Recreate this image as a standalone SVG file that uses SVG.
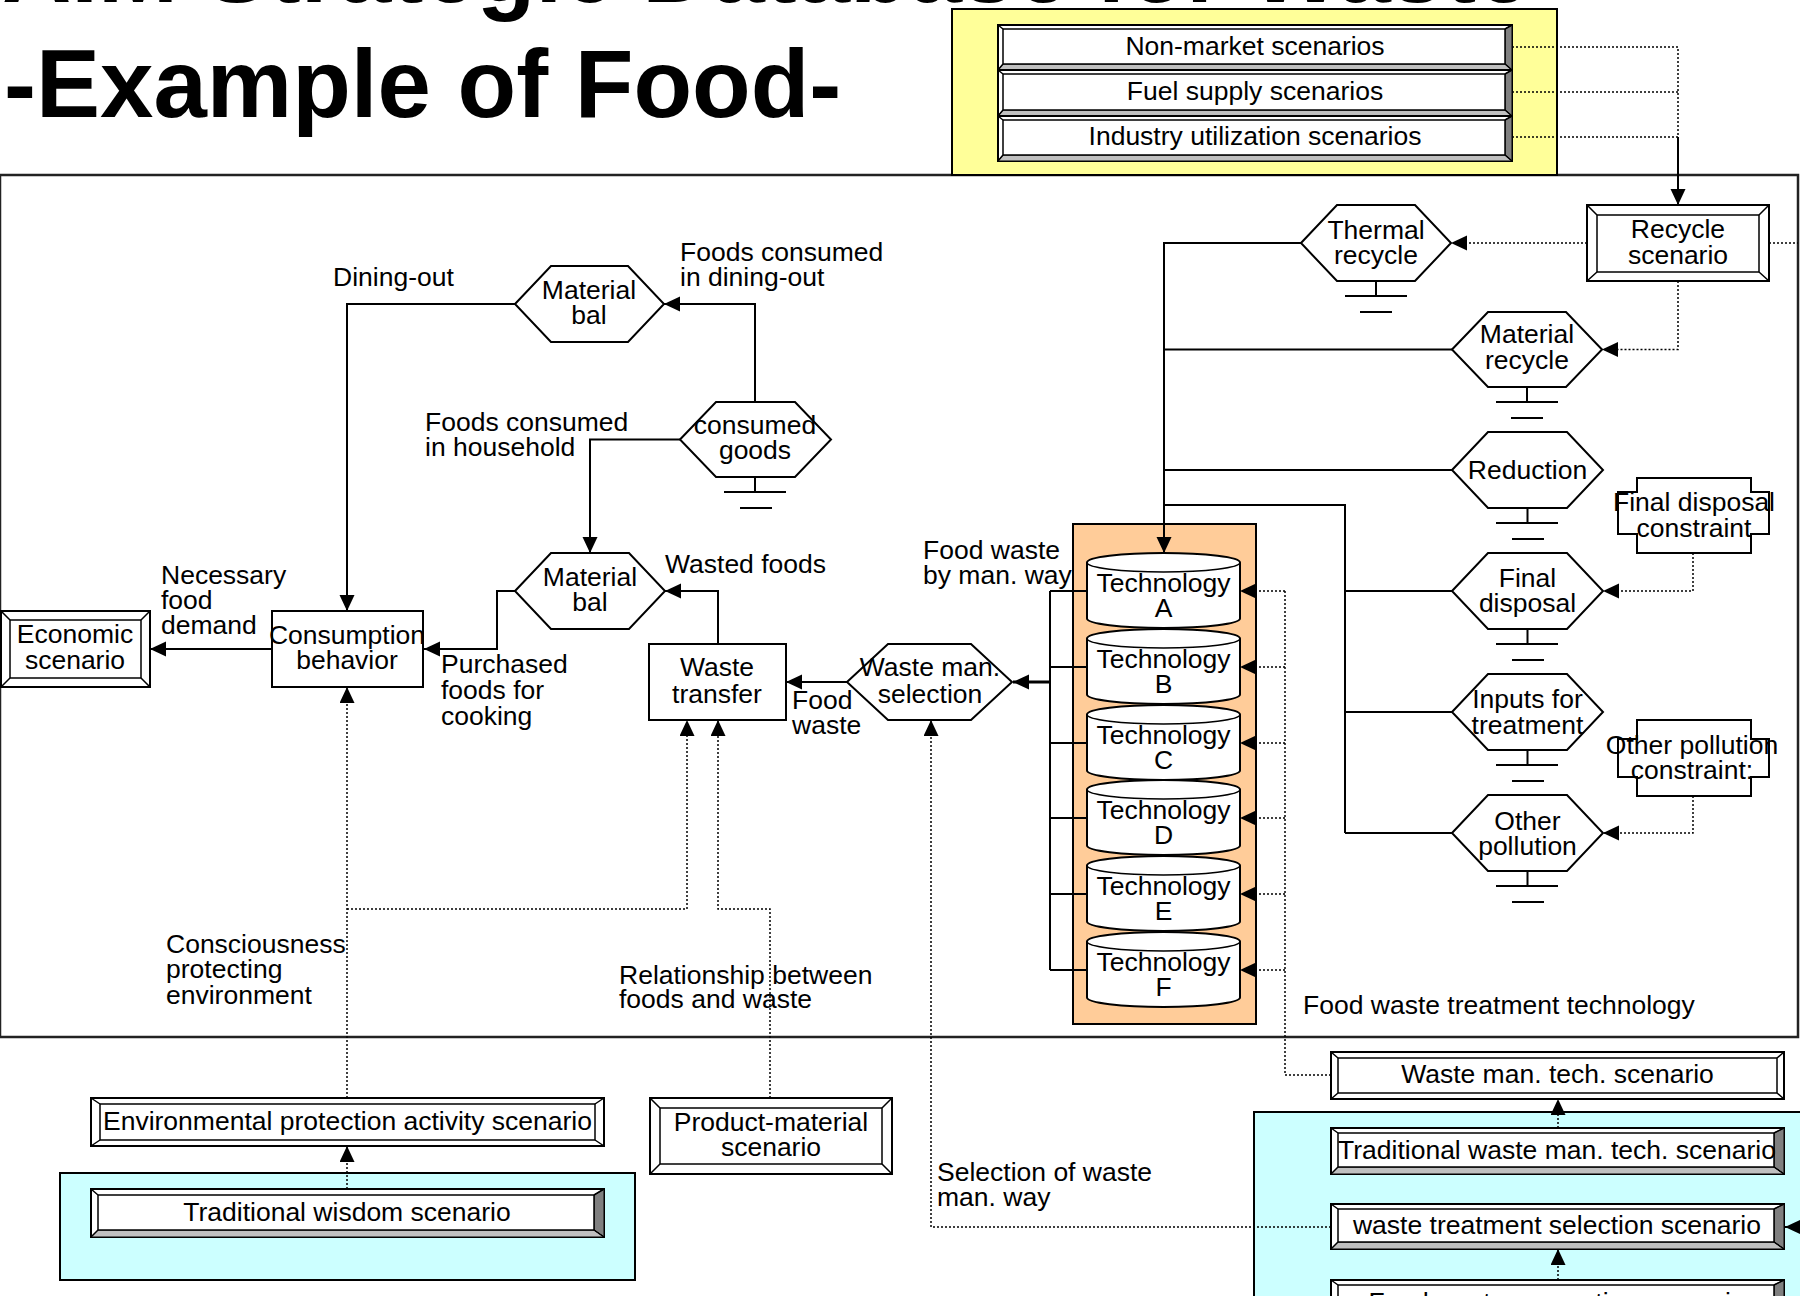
<svg xmlns="http://www.w3.org/2000/svg" width="1800" height="1296" viewBox="0 0 1800 1296">
<defs>
<style>
.t{font-family:"Liberation Sans",Arial,Helvetica,sans-serif;font-size:26.5px;fill:#000}
.m{text-anchor:middle}
.title{font-family:"Liberation Sans",Arial,Helvetica,sans-serif;font-size:96px;font-weight:bold;fill:#000}
.ln{fill:none;stroke:#000;stroke-width:2}
.thk{fill:none;stroke:#000;stroke-width:3}
.dt{fill:none;stroke:#000;stroke-width:1.5;stroke-dasharray:2 2}
.hex{fill:#fff;stroke:#000;stroke-width:2}
.box{fill:#fff;stroke:#000;stroke-width:2}
.bo{fill:#fff;stroke:#000;stroke-width:2}
.bi{fill:#fff;stroke:#000;stroke-width:1.5}
.bd{fill:none;stroke:#000;stroke-width:1.5}
.dk{fill:#808080;stroke:#000;stroke-width:1}
.lt{fill:#c0c0c0;stroke:#000;stroke-width:1}
.gnd{fill:none;stroke:#000;stroke-width:2}
.cyl{fill:#fff;stroke:#000;stroke-width:2}
.frame{fill:none;stroke:#222;stroke-width:2.5}
.cons{fill:#fff;stroke:#000;stroke-width:2}
</style>
<marker id="ah" markerUnits="userSpaceOnUse" markerWidth="17" markerHeight="16" refX="16" refY="7.5" orient="auto"><path d="M0,0L16,7.5L0,15z" fill="#000"/></marker>
</defs>

<!-- titles -->
<g id="title">
<text class="title" x="2" y="2">AIM Strategic Database for Waste</text>
<text class="title" x="4" y="117">-Example of Food-</text>
</g>

<!-- containers -->
<g id="containers">
<rect class="frame" x="0" y="175" width="1798" height="862"/>
<rect x="60" y="1173" width="575" height="107" fill="#ccffff" stroke="#000" stroke-width="2"/>
<rect x="1254" y="1112" width="560" height="200" fill="#ccffff" stroke="#000" stroke-width="2"/>
<rect x="952" y="9" width="605" height="166" fill="#ffff99" stroke="#000" stroke-width="2"/>
<rect x="1073" y="524" width="183" height="500" fill="#ffcc99" stroke="#000" stroke-width="2"/>
</g>

<!-- connectors -->
<g id="connectors">
<path class="ln" d="M515,304H347V611" marker-end="url(#ah)"/>
<path class="ln" d="M755,402V304H664" marker-end="url(#ah)"/>
<path class="ln" d="M680,439.5H590V553" marker-end="url(#ah)"/>
<path class="ln" d="M718,644V591H665" marker-end="url(#ah)"/>
<path class="ln" d="M515,591H497V649H424" marker-end="url(#ah)"/>
<path class="ln" d="M272,649H150" marker-end="url(#ah)"/>
<path class="ln" d="M847,682H786" marker-end="url(#ah)"/>
<path class="ln" d="M1050,591V970M1050,591H1087M1050,667H1087M1050,743H1087M1050,818H1087M1050,894H1087M1050,970H1087"/>
<path class="thk" d="M1050,682H1013" marker-end="url(#ah)"/>
<path class="ln" d="M1301,243H1164V553" marker-end="url(#ah)"/>
<path class="ln" d="M1452,349.5H1164M1452,470H1164"/>
<path class="ln" d="M1164,505H1345V833M1345,591H1452M1345,712H1452M1345,833H1452"/>
<path class="dt" d="M1512,47H1678V137M1512,92H1678M1512,137H1678"/>
<path class="ln" d="M1678,137V205" marker-end="url(#ah)"/>
<path class="dt" d="M1587,243H1451" marker-end="url(#ah)"/>
<path class="dt" d="M1769,243H1798"/>
<path class="dt" d="M1678,281V349.5H1602" marker-end="url(#ah)"/>
<path class="dt" d="M1693,553V591H1603" marker-end="url(#ah)"/>
<path class="dt" d="M1693,796V833H1603" marker-end="url(#ah)"/>
<path class="dt" d="M1331,1075H1285V591"/>
<path class="dt" d="M1285,591H1240" marker-end="url(#ah)"/>
<path class="dt" d="M1285,667H1240" marker-end="url(#ah)"/>
<path class="dt" d="M1285,743H1240" marker-end="url(#ah)"/>
<path class="dt" d="M1285,818H1240" marker-end="url(#ah)"/>
<path class="dt" d="M1285,894H1240" marker-end="url(#ah)"/>
<path class="dt" d="M1285,970H1240" marker-end="url(#ah)"/>
<path class="dt" d="M347,1098V687" marker-end="url(#ah)"/>
<path class="dt" d="M347,909H687V720" marker-end="url(#ah)"/>
<path class="dt" d="M770,1098V909H718V720" marker-end="url(#ah)"/>
<path class="dt" d="M1331,1227H931V720" marker-end="url(#ah)"/>
<path class="dt" d="M347,1189V1146" marker-end="url(#ah)"/>
<path class="dt" d="M1558,1128V1099" marker-end="url(#ah)"/>
<path class="dt" d="M1558,1280V1249" marker-end="url(#ah)"/>
<path class="ln" d="M1815,1227H1785" marker-end="url(#ah)"/>
</g>

<g id="n-nonmarket">
<rect class="bo" x="998" y="25" width="514" height="45"/>
<polygon class="dk" points="1512,25 1512,70 1505,64 1505,29"/>
<polygon class="lt" points="998,70 1512,70 1505,64 1003,64"/>
<rect class="bi" x="1003" y="29" width="502" height="35"/>
<path class="bd" d="M998,25L1003,29M1512,25L1505,29M1512,70L1505,64M998,70L1003,64"/>
<text class="t m" x="1255" y="55">Non-market scenarios</text>
</g>
<g id="n-fuel">
<rect class="bo" x="998" y="70" width="514" height="46"/>
<polygon class="dk" points="1512,70 1512,116 1505,110 1505,74"/>
<polygon class="lt" points="998,116 1512,116 1505,110 1003,110"/>
<rect class="bi" x="1003" y="74" width="502" height="36"/>
<path class="bd" d="M998,70L1003,74M1512,70L1505,74M1512,116L1505,110M998,116L1003,110"/>
<text class="t m" x="1255" y="100">Fuel supply scenarios</text>
</g>
<g id="n-industry">
<rect class="bo" x="998" y="116" width="514" height="45"/>
<polygon class="dk" points="1512,116 1512,161 1505,155 1505,120"/>
<polygon class="lt" points="998,161 1512,161 1505,155 1003,155"/>
<rect class="bi" x="1003" y="120" width="502" height="35"/>
<path class="bd" d="M998,116L1003,120M1512,116L1505,120M1512,161L1505,155M998,161L1003,155"/>
<text class="t m" x="1255" y="145">Industry utilization scenarios</text>
</g>

<g id="n-recycle">
<rect class="bo" x="1587" y="205" width="182" height="76"/>
<rect class="bi" x="1597" y="215" width="162" height="57"/>
<path class="bd" d="M1587,205L1597,215M1769,205L1759,215M1769,281L1759,272M1587,281L1597,272"/>
<text class="t m" x="1678" y="238">Recycle</text>
<text class="t m" x="1678" y="264">scenario</text>
</g>

<g id="n-matbal1">
<polygon class="hex" points="515,304 551,266 628,266 664,304 628,342 551,342"/>
<text class="t m" x="589" y="299">Material</text>
<text class="t m" x="589" y="324">bal</text>
</g>
<g id="n-consumed">
<polygon class="hex" points="680,439.5 716,402 795,402 831,439.5 795,477 716,477"/>
<path class="gnd" d="M755,477V492M724,492H786M740,508H772"/>
<text class="t m" x="755" y="434">consumed</text>
<text class="t m" x="755" y="459">goods</text>
</g>
<g id="n-matbal2">
<polygon class="hex" points="515,591 551,553 629,553 665,591 629,629 551,629"/>
<text class="t m" x="590" y="586">Material</text>
<text class="t m" x="590" y="611">bal</text>
</g>
<g id="n-wastesel">
<polygon class="hex" points="847,682 888,644 971,644 1012,682 971,720 888,720"/>
<text class="t m" x="930" y="676">Waste man.</text>
<text class="t m" x="930" y="703">selection</text>
</g>
<g id="n-thermal">
<polygon class="hex" points="1301,243 1337,205 1415,205 1451,243 1415,281 1337,281"/>
<path class="gnd" d="M1376,281V296M1345,296H1407M1360,312H1392"/>
<text class="t m" x="1376" y="239">Thermal</text>
<text class="t m" x="1376" y="264">recycle</text>
</g>
<g id="n-matrecycle">
<polygon class="hex" points="1452,349.5 1488,312 1566,312 1602,349.5 1566,387 1488,387"/>
<path class="gnd" d="M1527,387V402M1496,402H1558M1511,418H1543"/>
<text class="t m" x="1527" y="343">Material</text>
<text class="t m" x="1527" y="369">recycle</text>
</g>
<g id="n-reduction">
<polygon class="hex" points="1452,470 1488,432 1567,432 1603,470 1567,508 1488,508"/>
<path class="gnd" d="M1527.5,508V523M1496,523H1558M1512,539H1544"/>
<text class="t m" x="1527.5" y="479">Reduction</text>
</g>
<g id="n-finaldisp">
<polygon class="hex" points="1452,591 1488,553 1567,553 1603,591 1567,629 1488,629"/>
<path class="gnd" d="M1527.5,629V644M1496,644H1558M1512,660H1544"/>
<text class="t m" x="1527.5" y="587">Final</text>
<text class="t m" x="1527.5" y="612">disposal</text>
</g>
<g id="n-inputs">
<polygon class="hex" points="1452,712 1488,674 1567,674 1603,712 1567,750 1488,750"/>
<path class="gnd" d="M1527.5,750V765M1496,765H1558M1512,781H1544"/>
<text class="t m" x="1527.5" y="708">Inputs for</text>
<text class="t m" x="1527.5" y="734">treatment</text>
</g>
<g id="n-otherpol">
<polygon class="hex" points="1452,833 1488,795 1567,795 1603,833 1567,871 1488,871"/>
<path class="gnd" d="M1527.5,871V886M1496,886H1558M1512,902H1544"/>
<text class="t m" x="1527.5" y="830">Other</text>
<text class="t m" x="1527.5" y="855">pollution</text>
</g>

<g id="n-fdconstraint">
<polygon class="cons" points="1637,478 1751,478 1751,492 1769,492 1769,534 1751,534 1751,553 1637,553 1637,534 1618,534 1618,492 1637,492"/>
<text class="t m" x="1694" y="511">Final disposal</text>
<text class="t m" x="1694" y="537">constraint</text>
</g>
<g id="n-opconstraint">
<polygon class="cons" points="1637,720 1751,720 1751,739 1769,739 1769,777 1751,777 1751,796 1637,796 1637,777 1618,777 1618,739 1637,739"/>
<text class="t m" x="1692" y="754">Other pollution</text>
<text class="t m" x="1692" y="779">constraint:</text>
</g>

<g id="n-consumption">
<rect class="box" x="272" y="611" width="151" height="76"/>
<text class="t m" x="347" y="644">Consumption</text>
<text class="t m" x="347" y="669">behavior</text>
</g>
<g id="n-wastetransfer">
<rect class="box" x="649" y="644" width="137" height="76"/>
<text class="t m" x="717" y="676">Waste</text>
<text class="t m" x="717" y="703">transfer</text>
</g>
<g id="n-economic">
<rect class="bo" x="1" y="611" width="149" height="76"/>
<rect class="bi" x="10" y="620" width="131" height="58"/>
<path class="bd" d="M1,611L10,620M150,611L141,620M150,687L141,678M1,687L10,678"/>
<text class="t m" x="75" y="643">Economic</text>
<text class="t m" x="75" y="669">scenario</text>
</g>

<g id="n-techA">
<path class="cyl" d="M1087,562.5A76.5,9.5 0 0 1 1240,562.5V618.5A76.5,9.5 0 0 1 1087,618.5Z"/>
<path class="bd" d="M1087,562.5A76.5,9.5 0 0 0 1240,562.5"/>
<text class="t m" x="1163.5" y="592">Technology</text>
<text class="t m" x="1163.5" y="617">A</text>
</g>
<g id="n-techB">
<path class="cyl" d="M1087,638.5A76.5,9.5 0 0 1 1240,638.5V694.5A76.5,9.5 0 0 1 1087,694.5Z"/>
<path class="bd" d="M1087,638.5A76.5,9.5 0 0 0 1240,638.5"/>
<text class="t m" x="1163.5" y="668">Technology</text>
<text class="t m" x="1163.5" y="693">B</text>
</g>
<g id="n-techC">
<path class="cyl" d="M1087,714.5A76.5,9.5 0 0 1 1240,714.5V770.5A76.5,9.5 0 0 1 1087,770.5Z"/>
<path class="bd" d="M1087,714.5A76.5,9.5 0 0 0 1240,714.5"/>
<text class="t m" x="1163.5" y="744">Technology</text>
<text class="t m" x="1163.5" y="769">C</text>
</g>
<g id="n-techD">
<path class="cyl" d="M1087,789.5A76.5,9.5 0 0 1 1240,789.5V845.5A76.5,9.5 0 0 1 1087,845.5Z"/>
<path class="bd" d="M1087,789.5A76.5,9.5 0 0 0 1240,789.5"/>
<text class="t m" x="1163.5" y="819">Technology</text>
<text class="t m" x="1163.5" y="844">D</text>
</g>
<g id="n-techE">
<path class="cyl" d="M1087,865.5A76.5,9.5 0 0 1 1240,865.5V921.5A76.5,9.5 0 0 1 1087,921.5Z"/>
<path class="bd" d="M1087,865.5A76.5,9.5 0 0 0 1240,865.5"/>
<text class="t m" x="1163.5" y="895">Technology</text>
<text class="t m" x="1163.5" y="920">E</text>
</g>
<g id="n-techF">
<path class="cyl" d="M1087,941.5A76.5,9.5 0 0 1 1240,941.5V997.5A76.5,9.5 0 0 1 1087,997.5Z"/>
<path class="bd" d="M1087,941.5A76.5,9.5 0 0 0 1240,941.5"/>
<text class="t m" x="1163.5" y="971">Technology</text>
<text class="t m" x="1163.5" y="996">F</text>
</g>

<g id="n-envprot">
<rect class="bo" x="91" y="1098" width="513" height="48"/>
<rect class="bi" x="100" y="1104" width="495" height="36"/>
<path class="bd" d="M91,1098L100,1104M604,1098L595,1104M604,1146L595,1140M91,1146L100,1140"/>
<text class="t m" x="347.5" y="1130">Environmental protection activity scenario</text>
</g>
<g id="n-tradwisdom">
<rect class="bo" x="91" y="1189" width="513" height="48"/>
<polygon class="dk" points="604,1189 604,1237 594,1230 594,1195"/>
<polygon class="lt" points="91,1237 604,1237 594,1230 98,1230"/>
<rect class="bi" x="98" y="1195" width="496" height="35"/>
<path class="bd" d="M91,1189L98,1195M604,1189L594,1195M604,1237L594,1230M91,1237L98,1230"/>
<text class="t m" x="347" y="1221">Traditional wisdom scenario</text>
</g>
<g id="n-prodmat">
<rect class="bo" x="650" y="1098" width="242" height="76"/>
<rect class="bi" x="660" y="1108" width="222" height="56"/>
<path class="bd" d="M650,1098L660,1108M892,1098L882,1108M892,1174L882,1164M650,1174L660,1164"/>
<text class="t m" x="771" y="1131">Product-material</text>
<text class="t m" x="771" y="1156">scenario</text>
</g>
<g id="n-wastetech">
<rect class="bo" x="1331" y="1052" width="453" height="47"/>
<rect class="bi" x="1338" y="1058" width="439" height="35"/>
<path class="bd" d="M1331,1052L1338,1058M1784,1052L1777,1058M1784,1099L1777,1093M1331,1099L1338,1093"/>
<text class="t m" x="1557.5" y="1083">Waste man. tech. scenario</text>
</g>
<g id="n-tradwaste">
<rect class="bo" x="1331" y="1128" width="453" height="46"/>
<polygon class="dk" points="1784,1128 1784,1174 1774,1167 1774,1133"/>
<polygon class="lt" points="1331,1174 1784,1174 1774,1167 1338,1167"/>
<rect class="bi" x="1338" y="1133" width="436" height="34"/>
<path class="bd" d="M1331,1128L1338,1133M1784,1128L1774,1133M1784,1174L1774,1167M1331,1174L1338,1167"/>
<text class="t m" x="1557" y="1159">Traditional waste man. tech. scenario</text>
</g>
<g id="n-treatsel">
<rect class="bo" x="1331" y="1204" width="453" height="45"/>
<polygon class="dk" points="1784,1204 1784,1249 1774,1242 1774,1209"/>
<polygon class="lt" points="1331,1249 1784,1249 1774,1242 1338,1242"/>
<rect class="bi" x="1338" y="1209" width="436" height="33"/>
<path class="bd" d="M1331,1204L1338,1209M1784,1204L1774,1209M1784,1249L1774,1242M1331,1249L1338,1242"/>
<text class="t m" x="1557" y="1234">waste treatment selection scenario</text>
</g>
<g id="n-foodgen">
<rect class="bo" x="1331" y="1280" width="453" height="46"/>
<polygon class="dk" points="1784,1280 1784,1326 1774,1319 1774,1285"/>
<rect class="bi" x="1338" y="1285" width="436" height="34"/>
<path class="bd" d="M1331,1280L1338,1285M1784,1280L1774,1285"/>
<text class="t m" x="1557" y="1311">Food waste generation scenario</text>
</g>

<g id="labels">
<text class="t" x="333" y="286">Dining-out</text>
<text class="t" x="680" y="261">Foods consumed</text>
<text class="t" x="680" y="286">in dining-out</text>
<text class="t" x="425" y="431">Foods consumed</text>
<text class="t" x="425" y="456">in household</text>
<text class="t" x="161" y="584">Necessary</text>
<text class="t" x="161" y="609">food</text>
<text class="t" x="161" y="634">demand</text>
<text class="t" x="665" y="573">Wasted foods</text>
<text class="t" x="441" y="673">Purchased</text>
<text class="t" x="441" y="699">foods for</text>
<text class="t" x="441" y="725">cooking</text>
<text class="t" x="792" y="709">Food</text>
<text class="t" x="792" y="734">waste</text>
<text class="t" x="923" y="559">Food waste</text>
<text class="t" x="923" y="584">by man. way</text>
<text class="t" x="166" y="953">Consciousness</text>
<text class="t" x="166" y="978">protecting</text>
<text class="t" x="166" y="1004">environment</text>
<text class="t" x="619" y="984">Relationship between</text>
<text class="t" x="619" y="1008">foods and waste</text>
<text class="t" x="937" y="1181">Selection of waste</text>
<text class="t" x="937" y="1206">man. way</text>
<text class="t" x="1303" y="1014">Food waste treatment technology</text>
</g>
</svg>
